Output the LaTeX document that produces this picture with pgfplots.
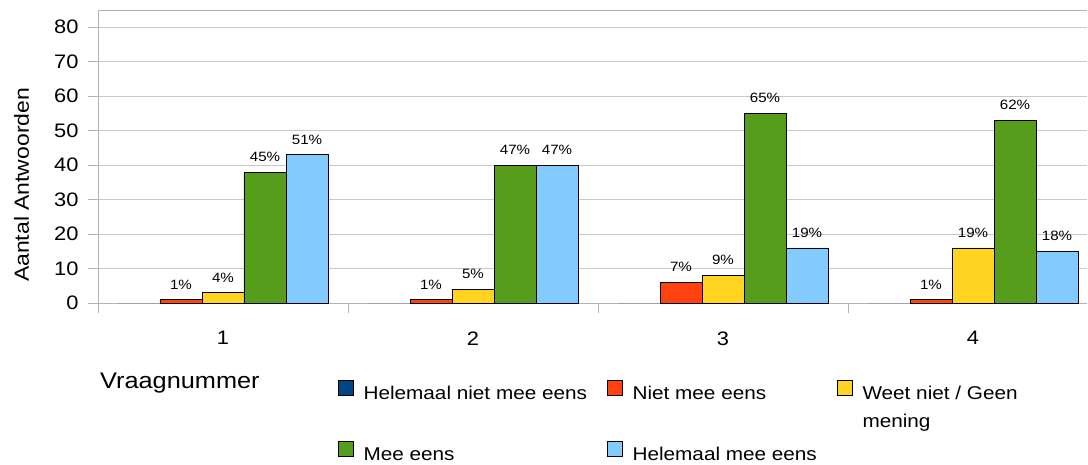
\documentclass[border=0pt]{standalone}
\usepackage{fontspec}
\setmainfont{Liberation Sans}[FakeStretch=1.12]
\usepackage{pgfplots}
\pgfplotsset{compat=1.18}
\definecolor{c1}{HTML}{004586}
\definecolor{c2}{HTML}{FF420E}
\definecolor{c3}{HTML}{FFD320}
\definecolor{c4}{HTML}{579D1C}
\definecolor{c5}{HTML}{83CAFF}
\definecolor{gridc}{HTML}{C8C8C8}
\definecolor{axc}{HTML}{B3B3B3}
\begin{document}
\begin{tikzpicture}
\begin{axis}[
  scale only axis, width=989pt, height=293pt,
  xmin=0.5, xmax=4.456, ymin=0, ymax=85,
  axis lines=left, axis line style={-, draw=axc, line width=0.8pt},
  ytick={0,10,...,80},
  yticklabel style={xshift=-6pt},
  xtick={0.5,1.5,2.5,3.5}, xticklabels={},
  extra x ticks={1,2,3,4}, extra x tick labels={1,2,3,4},
  extra x tick style={major tick length=0pt, xticklabel style={yshift=-25pt}},
  tick align=outside, major tick length=10pt,
  tick style={draw=axc, line width=0.8pt},
  ymajorgrids, grid style={draw=gridc, line width=0.8pt},
  /pgf/number format/assume math mode=true,
  tick label style={font=\fontsize{19.5}{22}\selectfont},
  ylabel={Aantal Antwoorden},
  ylabel style={at={(rel axis cs:-0.0698,0.403)}, anchor=base, inner sep=0pt, font=\fontsize{20.5}{24}\selectfont},
  xlabel={Vraagnummer},
  xlabel style={at={(rel axis cs:0,0)}, anchor=base west, inner sep=0pt, xshift=2pt, yshift=-85pt, font=\fontsize{22.6}{26}\selectfont},
  ybar, bar width=0.168,
  every axis plot/.append style={draw=black, line width=0.6pt},
  point meta=explicit symbolic,
  nodes near coords style={font=\fontsize{13.5}{16}\selectfont, inner sep=0pt, anchor=base, yshift=10.5pt},
  legend columns=3,
  legend image code/.code={\draw[#1, draw=black, line width=0.6pt] (0pt,4pt) rectangle (15pt,19pt);},
  legend style={at={(rel axis cs:0,0)}, anchor=north west, xshift=240pt, yshift=-77pt,
    draw=none, fill=none, inner sep=0pt, outer sep=0pt,
    font=\fontsize{18.5}{28}\selectfont,
    cells={anchor=base west, inner sep=0pt}, row sep=38pt,
    /tikz/every odd column/.append style={column sep=8pt},
    /tikz/every even column/.append style={column sep=18pt},
    /tikz/column 4/.append style={column sep=9pt}},
]
\coordinate (O) at (rel axis cs:0,0);
\draw[draw=axc, line width=0.8pt] (rel axis cs:0,1) -- (rel axis cs:1,1);
\addplot[fill=c1, draw=none, bar shift=-0.336] coordinates {(1,0) [] (2,0) [] (3,0) [] (4,0) []};
\addlegendentry{Helemaal niet mee eens}
\addplot[fill=c2, bar shift=-0.168, nodes near coords={\pgfplotspointmeta\%}] coordinates {(1,1) [1] (2,1) [1] (3,6) [7] (4,1) [1]};
\addlegendentry{Niet mee eens}
\addplot[fill=c3, bar shift=0, nodes near coords={\pgfplotspointmeta\%}] coordinates {(1,3) [4] (2,4) [5] (3,8) [9] (4,16) [19]};
\addlegendentry{\parbox[t]{200pt}{Weet niet / Geen\\mening}}
\addplot[fill=c4, bar shift=0.168, nodes near coords={\pgfplotspointmeta\%}] coordinates {(1,38) [45] (2,40) [47] (3,55) [65] (4,53) [62]};
\addlegendentry{Mee eens}
\addplot[fill=c5, bar shift=0.336, nodes near coords={\pgfplotspointmeta\%}] coordinates {(1,43) [51] (2,40) [47] (3,16) [19] (4,15) [18]};
\addlegendentry{Helemaal mee eens}
\end{axis}
\pgfresetboundingbox
\path (O) ++(-98pt,-161pt) rectangle ++(1088pt,464pt);
\end{tikzpicture}
\end{document}
